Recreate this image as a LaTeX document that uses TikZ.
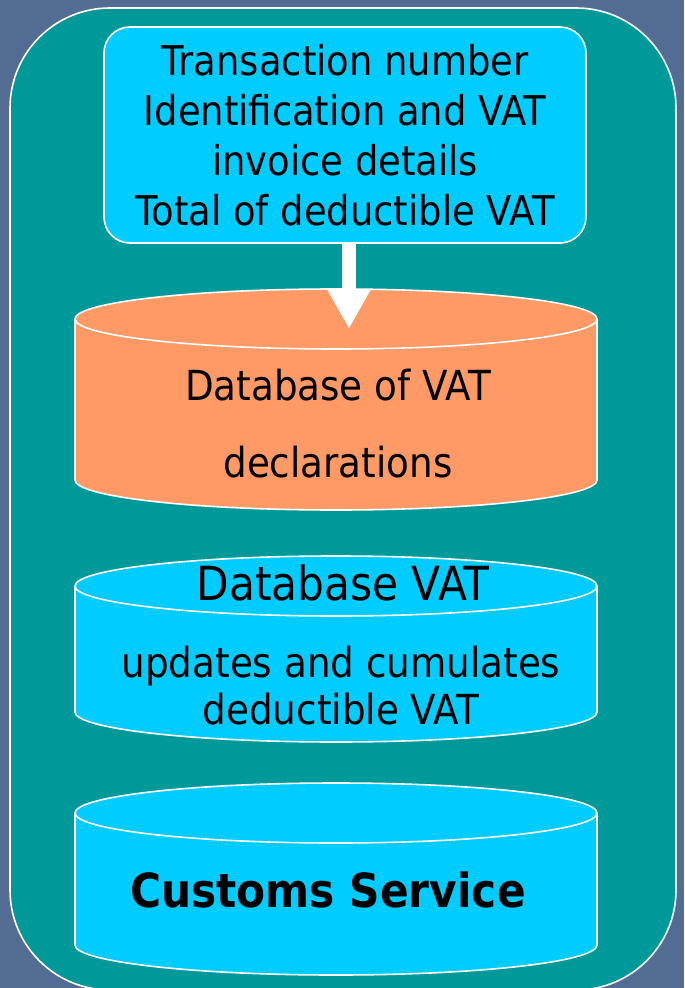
\documentclass[tikz,border=0pt]{standalone}
\usepackage{fontspec}
\setmainfont{DejaVu Sans}[FakeStretch=0.9]
\usetikzlibrary{arrows.meta}

\definecolor{slidebg}{HTML}{536C93}
\definecolor{panelteal}{HTML}{009999}
\definecolor{boxcyan}{HTML}{00CCFF}
\definecolor{dborange}{HTML}{FF9966}

\begin{document}
\begin{tikzpicture}[x=0.5pt, y=-0.5pt,
  every node/.style={align=center, inner sep=0pt},
  outline/.style={draw=white, line width=0.8pt},
  infobox/.style={outline, fill=boxcyan, rounded corners=13pt, minimum width=241pt, minimum height=108pt, font=\fontsize{20.5}{25}\selectfont},
  dbtext/.style={font=\fontsize{20.7}{23.5}\selectfont},
  dbtitle/.style={font=\fontsize{23.5}{25}\selectfont},
  blockarrow/.style={draw=white, line width=7pt, -{Triangle[width=20pt, length=19.5pt]}}]
  % slide and panel
  \fill[slidebg] (0,0) rectangle (684,988);
  \useasboundingbox (0,0) rectangle (684,988);
  \filldraw[outline, fill=panelteal, rounded corners=50pt] (10,8) rectangle (676,990);

  % the three databases
  \filldraw[outline, fill=dborange] (75,319) -- (75,480) arc[start angle=180, end angle=0, x radius=261, y radius=30] -- (597,319);
  \filldraw[outline, fill=dborange] (336,319) ellipse[x radius=261, y radius=30];
  \filldraw[outline, fill=boxcyan] (75,586) -- (75,712) arc[start angle=180, end angle=0, x radius=261, y radius=30] -- (597,586);
  \filldraw[outline, fill=boxcyan] (336,586) ellipse[x radius=261, y radius=30];
  \filldraw[outline, fill=boxcyan] (75,813) -- (75,945) arc[start angle=180, end angle=0, x radius=261, y radius=30] -- (597,813);
  \filldraw[outline, fill=boxcyan] (336,813) ellipse[x radius=261, y radius=30];

  \node[infobox] (invoice) at (345,135) {Transaction number\\Identification and VAT\\invoice details\\Total of deductible VAT};
  \node[dbtext, font=\fontsize{20.7}{38.5}\selectfont] (declarations) at (338,424) {Database of VAT\\declarations};
  \node[dbtitle] (vatdb) at (343,583) {Database VAT};
  \node[dbtext] (vatupdates) at (341,686) {updates and cumulates\\deductible VAT};
  \node[dbtitle, font=\fontsize{23.5}{25}\bfseries] (customs) at (328,890) {Customs Service};

  \coordinate (arrowtip) at (349,329);
  \draw[blockarrow] (invoice.south -| arrowtip) -- (arrowtip);
\end{tikzpicture}
\end{document}
